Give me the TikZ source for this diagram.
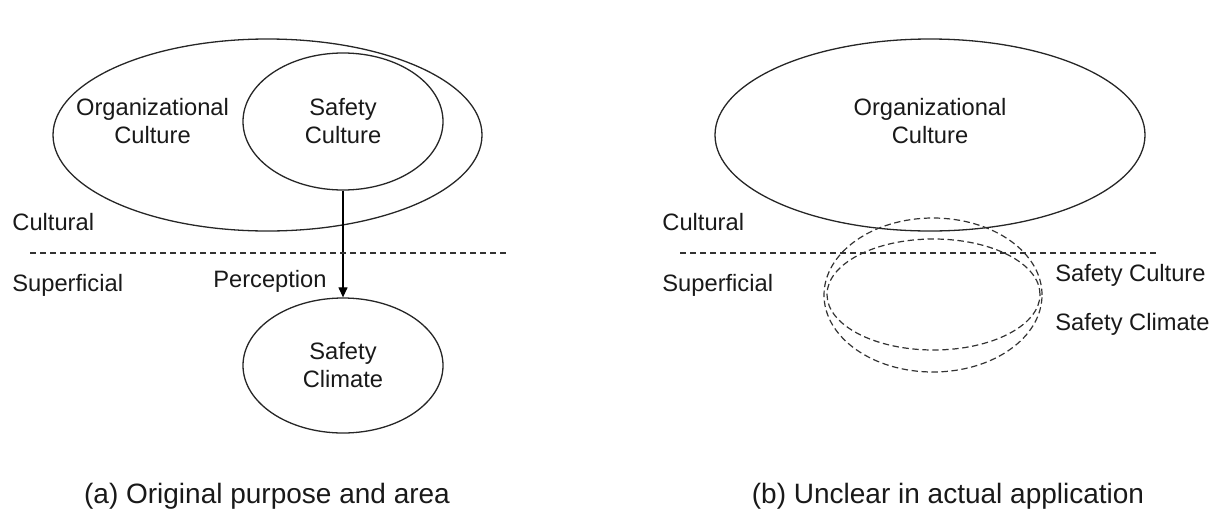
\documentclass[tikz,border=0pt]{standalone}
\usepackage{fontspec}
\setmainfont{Liberation Sans}
\usetikzlibrary{shapes.geometric,arrows.meta}
\begin{document}
\begin{tikzpicture}[x=0.5pt,y=-0.5pt,
  oval/.style={draw=black!85,line width=0.65pt,ellipse,inner sep=0pt},
  dashoval/.style={draw=black!80,line width=0.6pt,ellipse,inner sep=0pt,dash pattern=on 3.2pt off 1.8pt},
  divider/.style={draw=black!80,line width=0.55pt,dash pattern=on 3.2pt off 1.8pt},
  txt/.style={font=\fontsize{11.85pt}{14pt}\selectfont,inner sep=0pt,align=center,text=black!90},
  captiontxt/.style={font=\fontsize{14pt}{16pt}\selectfont,inner sep=0pt,text=black!90},
  flow/.style={line width=0.6pt,-{Triangle[length=5pt,width=4.5pt]}}]
\useasboundingbox (0,0) rectangle (1219,509);

% ---------- (a) original purpose and area ----------
\node[oval,minimum width=214.5pt,minimum height=96pt] (orgA) at (267.5,135) {};
\node[txt] (orgAtxt) at (152.5,121) {Organizational\\Culture};
\node[oval,minimum width=100pt,minimum height=68.5pt,txt] (scA) at (343,121.5) {Safety\\Culture};
\node[oval,minimum width=100pt,minimum height=67.5pt,txt] (climA) at (343,365.5) {Safety\\Climate};
\draw[flow] (scA.south) -- (climA.north);
\node[txt,anchor=east] (perc) at (327,281) {Perception};

\coordinate (divAl) at (30,253);
\coordinate (divAr) at (508,253);
\draw[divider] (divAl) -- (divAr);
\node[txt,anchor=west] (culA) at (12,222) {Cultural};
\node[txt,anchor=west] (supA) at (12,285) {Superficial};

\node[captiontxt] (capA) at (267,496) {(a) Original purpose and area};

% ---------- (b) unclear in actual application ----------
\node[oval,minimum width=215pt,minimum height=96pt] (orgB) at (930,135) {};
\node[txt] (orgBtxt) at (930,121) {Organizational\\Culture};

\coordinate (divBl) at (680,253);
\coordinate (divBr) at (1157,253);
\draw[divider] (divBl) -- (divBr);
\node[txt,anchor=west] (culB) at (662,222) {Cultural};
\node[txt,anchor=west] (supB) at (662,285) {Superficial};

\node[dashoval,minimum width=109pt,minimum height=77pt] (scB) at (933,295) {};
\node[dashoval,minimum width=106.5pt,minimum height=55.5pt] (climB) at (933.5,294.5) {};
\node[txt,anchor=west] (scBtxt) at (1055,275) {Safety Culture};
\node[txt,anchor=west] (climBtxt) at (1055,324) {Safety Climate};

\node[captiontxt] (capB) at (948,496) {(b) Unclear in actual application};
\end{tikzpicture}
\end{document}
